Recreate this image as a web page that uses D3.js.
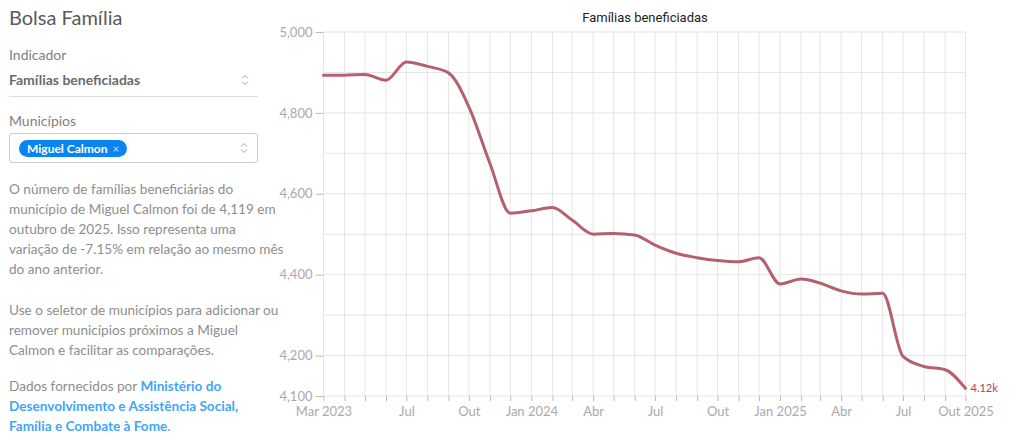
<!DOCTYPE html>
<html>
<head>
<meta charset="utf-8">
<script src="https://cdn.jsdelivr.net/npm/d3@7"></script>
<style>
  body { margin: 0; background: #fff; font-family: Lato, sans-serif; }
  #side { position: absolute; left: 9px; top: 0; width: 250px; color: #888; }
  #side h1 { position: absolute; top: 5px; margin: 0; font-size: 20px; font-weight: 400; color: #5a5a5a; white-space: nowrap; }
  .lbl { position: absolute; font-size: 14px; color: #808080; white-space: nowrap; }
  .ind { position: absolute; top: 71px; width: 249px; font-size: 14px; font-weight: 700; color: #6a6a6a; padding-bottom: 8px; border-bottom: 1px solid #ddd; }
  .arrow { position: absolute; right: 9px; }
  .sel { position: absolute; top: 133px; width: 247px; height: 28px; border: 1px solid #ccc; border-radius: 3px; }
  .chip { position: absolute; left: 9px; top: 6px; height: 17px; line-height: 17px; padding: 0 8px; border-radius: 9px; background: #0a84f0; color: #fff; font-size: 12px; font-weight: 700; white-space: nowrap; }
  .chip span { font-weight: 400; color: #cde; margin-left: 5px; }
  .txt { position: absolute; font-size: 13.6px; line-height: 20px; color: #8e8e8e; white-space: nowrap; }
  .txt b { color: #3fa6f7; }
  #chart { position: absolute; left: 270px; top: 0; }
</style>
</head>
<body>
<div id="side">
  <h1>Bolsa Família</h1>
  <div class="lbl" style="top:46px">Indicador</div>
  <div class="ind">Famílias beneficiadas<svg class="arrow" style="top:3px" width="8" height="12"><path d="M1,4.5 L4,1.5 L7,4.5 M1,7.5 L4,10.5 L7,7.5" fill="none" stroke="#aaa" stroke-width="1"/></svg></div>
  <div class="lbl" style="top:112px">Municípios</div>
  <div class="sel"><div class="chip">Miguel Calmon<span>×</span></div><svg class="arrow" style="top:8px" width="8" height="12"><path d="M1,4.5 L4,1.5 L7,4.5 M1,7.5 L4,10.5 L7,7.5" fill="none" stroke="#aaa" stroke-width="1"/></svg></div>
  <div class="txt" style="top:179px">O número de famílias beneficiárias do<br>município de Miguel Calmon foi de 4,119 em<br>outubro de 2025. Isso representa uma<br>variação de -7.15% em relação ao mesmo mês<br>do ano anterior.</div>
  <div class="txt" style="top:300px">Use o seletor de municípios para adicionar ou<br>remover municípios próximos a Miguel<br>Calmon e facilitar as comparações.</div>
  <div class="txt" style="top:376px">Dados fornecidos por <b>Ministério do<br>Desenvolvimento e Assistência Social,<br>Família e Combate à Fome</b>.</div>
</div>
<svg id="chart" width="754" height="444"></svg>
<script>
const months = ["2023-03","2023-04","2023-05","2023-06","2023-07","2023-08","2023-09","2023-10","2023-11","2023-12",
  "2024-01","2024-02","2024-03","2024-04","2024-05","2024-06","2024-07","2024-08","2024-09","2024-10","2024-11","2024-12",
  "2025-01","2025-02","2025-03","2025-04","2025-05","2025-06","2025-07","2025-08","2025-09","2025-10"];
const familias = [4893,4893,4895,4881,4926,4915,4899,4815,4675,4552,
  4558,4566,4535,4500,4502,4498,4473,4453,4442,4435,4432,4442,
  4377,4389,4379,4360,4352,4354,4198,4173,4165,4119];
const yTicks = [4100,4200,4400,4600,4800,5000];
const xTickLabels = [["2023-03","Mar 2023"],["2023-07","Jul"],["2023-10","Out"],["2024-01","Jan 2024"],["2024-04","Abr"],
  ["2024-07","Jul"],["2024-10","Out"],["2025-01","Jan 2025"],["2025-04","Abr"],["2025-07","Jul"],["2025-10","Out 2025"]];

const parse = d3.timeParse("%Y-%m");
const data = months.map((m, i) => ({ date: parse(m), value: familias[i] }));

const svg = d3.select("#chart");
const x = d3.scaleTime().domain(d3.extent(data, d => d.date)).range([53.5, 695.5]);
const y = d3.scaleLinear().domain([4100, 5000]).range([396, 32]);
const fmt = d3.format(",");
const axisFont = "Lato, sans-serif";

// grid
svg.append("g").selectAll("line").data(d3.range(4100, 5001, 100)).join("line")
  .attr("x1", x.range()[0]).attr("x2", x.range()[1])
  .attr("y1", d => y(d)).attr("y2", d => y(d))
  .attr("stroke", "#e5e5e5").attr("stroke-width", 1);
svg.append("g").selectAll("line").data(data).join("line")
  .attr("x1", d => x(d.date)).attr("x2", d => x(d.date))
  .attr("y1", y.range()[1]).attr("y2", y.range()[0])
  .attr("stroke", "#e5e5e5").attr("stroke-width", 1);

// y axis
const yAxis = svg.append("g")
  .attr("transform", `translate(${x.range()[0]},0)`)
  .call(d3.axisLeft(y).tickValues(yTicks).tickFormat(fmt).tickSize(8).tickPadding(3));
yAxis.select(".domain").remove();
yAxis.selectAll("line").attr("stroke", "#bbb");
yAxis.selectAll("text").attr("fill", "#aaa").style("font-family", axisFont).style("font-size", "13px");

// x axis
const labelMap = new Map(xTickLabels);
const xAxis = svg.append("g")
  .attr("transform", `translate(0,${y.range()[0]})`)
  .call(d3.axisBottom(x).tickValues(data.map(d => d.date))
    .tickFormat(d => labelMap.get(d3.timeFormat("%Y-%m")(d)) || "").tickSize(5).tickPadding(6));
xAxis.select(".domain").remove();
xAxis.selectAll("line").attr("stroke", "#bbb");
xAxis.selectAll("text").attr("fill", "#aaa").style("font-family", axisFont).style("font-size", "13px");

// line
const line = d3.line().x(d => x(d.date)).y(d => y(d.value)).curve(d3.curveMonotoneX);
svg.append("path").datum(data).attr("d", line)
  .attr("fill", "none").attr("stroke", "#b5606f").attr("stroke-width", 3)
  .attr("stroke-linejoin", "round").attr("stroke-linecap", "round");

const last = data[data.length - 1];
svg.append("text").attr("x", x(last.date) + 5).attr("y", y(last.value) + 4)
  .attr("fill", "#a04a5a").style("font-family", axisFont).style("font-size", "11px")
  .text(d3.format(".3s")(last.value).replace("k", "") + "k");

// title
svg.append("text").attr("x", 375).attr("y", 22).attr("text-anchor", "middle")
  .attr("fill", "#222").style("font-family", "Roboto, sans-serif").style("font-size", "13px")
  .text("Famílias beneficiadas");
</script>
</body>
</html>
